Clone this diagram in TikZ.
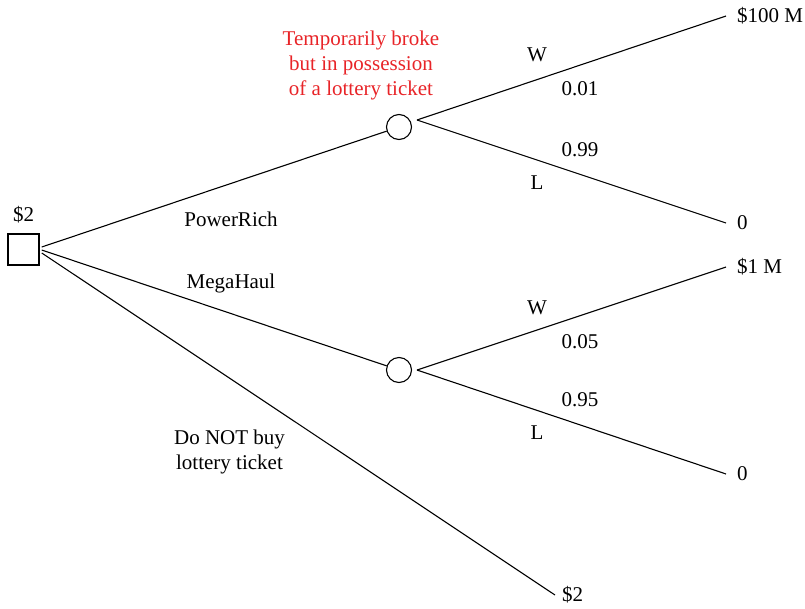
\documentclass[tikz,border=0pt]{standalone}
\usepackage{fontspec}
\setmainfont{Liberation Serif}
\definecolor{notered}{RGB}{232,36,40}
\begin{document}
\begin{tikzpicture}[x=1pt,y=-1pt,
  every node/.style={font=\fontsize{21}{25}\selectfont},
  branch/.style={line width=1.1pt},
  decision/.style={draw,line width=1.5pt,minimum size=31pt,inner sep=0pt},
  chance/.style={draw,circle,line width=1.1pt,minimum size=25pt,inner sep=0pt},
  leaf/.style={anchor=west,inner sep=0pt,inner xsep=11pt},
  lbl/.style={inner sep=0pt,align=center}]
\useasboundingbox (0,0) rectangle (805,608);

% decision and chance nodes
\node[decision] (dec) at (23.5,249.5) {};
\node[chance] (c1) at (399,127) {};
\node[chance] (c2) at (399,370) {};

% branch points just right of the chance nodes
\coordinate (b1) at (417,120);
\coordinate (b2) at (417,370);

% outcomes
\node[leaf] (o100) at (726,16) {\$100 M};
\node[leaf] (o0a) at (726,223) {0};
\node[leaf] (o1) at (726,267) {\$1 M};
\node[leaf] (o0b) at (726,474) {0};
\node[leaf,inner xsep=7pt] (o2) at (555,595) {\$2};

% connectors
\draw[branch] ([shift={(2pt,2.5pt)}]dec.east) -- (c1);
\draw[branch] ([shift={(2pt,-0.5pt)}]dec.east) -- (c2);
\draw[branch] ([shift={(2pt,-3.5pt)}]dec.east) -- (o2.west);
\draw[branch] (b1) -- (o100.west);
\draw[branch] (b1) -- (o0a.west);
\draw[branch] (b2) -- (o1.west);
\draw[branch] (b2) -- (o0b.west);

% labels
\node[lbl] (cost) at (23.5,215) {\$2};
\node[lbl,text=notered] (note) at (361,65.5) {Temporarily broke\\but in possession\\of a lottery ticket};
\node[lbl] (pr) at (231,219) {PowerRich};
\node[lbl] (mh) at (231,283) {MegaHaul};
\node[lbl] (nb) at (229.5,451.5) {Do NOT buy\\lottery ticket};
\node[lbl] (w1) at (537,55) {W};
\node[lbl] (p1) at (580,89) {0.01};
\node[lbl] (q1) at (580,150) {0.99};
\node[lbl] (l1) at (537,183) {L};
\node[lbl] (w2) at (537,308) {W};
\node[lbl] (p2) at (580,342) {0.05};
\node[lbl] (q2) at (580,400) {0.95};
\node[lbl] (l2) at (537,433) {L};
\end{tikzpicture}
\end{document}
